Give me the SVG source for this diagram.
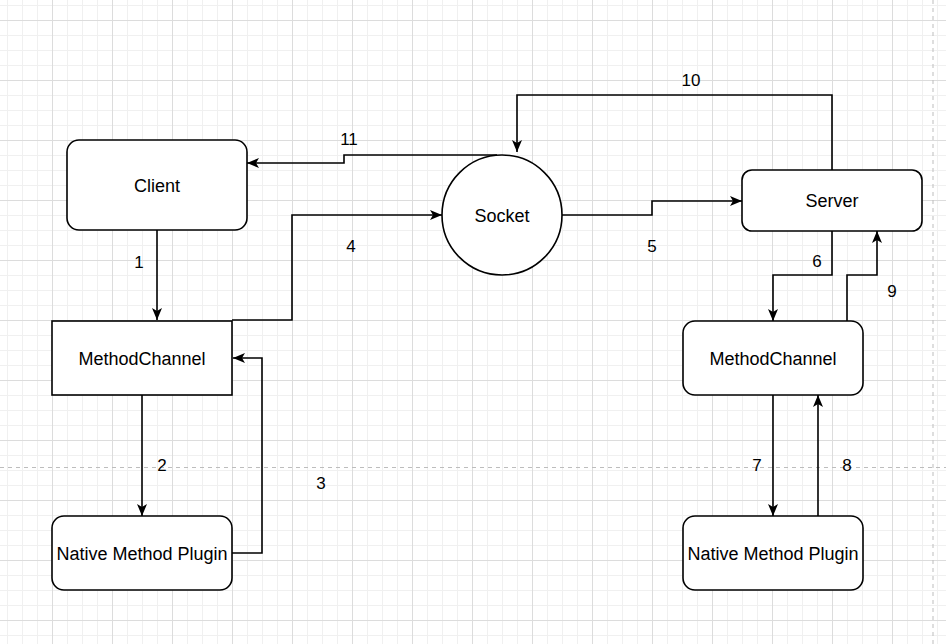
<svg xmlns="http://www.w3.org/2000/svg" width="946" height="644" viewBox="0 0 946 644">
<defs>
<pattern id="minor" patternUnits="userSpaceOnUse" x="7" y="5" width="15" height="15">
<path d="M0.5 0V15M0 0.5H15" stroke="#f0f0f0" stroke-width="1" fill="none"/>
</pattern>
<pattern id="major" patternUnits="userSpaceOnUse" x="52" y="20" width="60" height="60">
<path d="M0.5 0V60M0 0.5H60" stroke="#dcdcdc" stroke-width="1" fill="none"/>
</pattern>
<marker id="arr" viewBox="0 0 12 10" markerWidth="12" markerHeight="10" refX="12" refY="5" orient="auto" markerUnits="userSpaceOnUse">
<path d="M0,0 L12,5 L0,10 L3,5 Z" fill="#000"/>
</marker>
</defs>
<style>
.shape{fill:#fff;stroke:#000;stroke-width:1.6}
.lbl{font-family:"Liberation Sans",Arial,sans-serif;font-size:18px;fill:#000;text-anchor:middle;dominant-baseline:central}
.num{font-family:"Liberation Sans",Arial,sans-serif;font-size:17px;fill:#000;text-anchor:middle;dominant-baseline:central}
.edge{fill:none;stroke:#000;stroke-width:1.6;marker-end:url(#arr)}
</style>
<rect width="946" height="644" fill="#fff"/>
<rect width="946" height="644" fill="url(#minor)"/>
<rect width="946" height="644" fill="url(#major)"/>
<path d="M0 467.5H946M933 0V644" stroke="#bdbdbd" stroke-width="1" stroke-dasharray="4 4" fill="none"/>

<g id="connectors">
<path class="edge" d="M157 230V320"/>
<path class="edge" d="M142 395V516"/>
<path class="edge" d="M232 553H262V358H233"/>
<path class="edge" d="M232 320H292V215H442"/>
<path class="edge" d="M562 215H652V201H742"/>
<path class="edge" d="M832 231V275H773V321"/>
<path class="edge" d="M773 395V516"/>
<path class="edge" d="M818 516V395"/>
<path class="edge" d="M847 321V275H877V231"/>
<path class="edge" d="M832 170V95H517V152"/>
<path class="edge" d="M497 155H344V163H247"/>
<text class="num" x="139" y="262">1</text>
<text class="num" x="162" y="465">2</text>
<text class="num" x="321" y="483">3</text>
<text class="num" x="351" y="246">4</text>
<text class="num" x="652" y="246">5</text>
<text class="num" x="817" y="261">6</text>
<text class="num" x="757" y="465">7</text>
<text class="num" x="847" y="465">8</text>
<text class="num" x="892" y="291">9</text>
<text class="num" x="691" y="80">10</text>
<text class="num" x="349" y="139">11</text>
</g>

<g id="client">
<rect class="shape" x="67" y="140" width="180" height="90" rx="12"/>
<text class="lbl" x="157" y="186">Client</text>
</g>
<g id="socket">
<circle class="shape" cx="502" cy="215" r="60"/>
<text class="lbl" x="502" y="216">Socket</text>
</g>
<g id="server">
<rect class="shape" x="742" y="170" width="180" height="61" rx="10"/>
<text class="lbl" x="832" y="201">Server</text>
</g>
<g id="methodchannel-left">
<rect class="shape" x="52" y="321" width="180" height="74"/>
<text class="lbl" x="142" y="359">MethodChannel</text>
</g>
<g id="native-left">
<rect class="shape" x="52" y="516" width="180" height="74" rx="12"/>
<text class="lbl" x="142" y="554">Native Method Plugin</text>
</g>
<g id="methodchannel-right">
<rect class="shape" x="683" y="321" width="180" height="74" rx="12"/>
<text class="lbl" x="773" y="359">MethodChannel</text>
</g>
<g id="native-right">
<rect class="shape" x="683" y="516" width="180" height="74" rx="12"/>
<text class="lbl" x="773" y="554">Native Method Plugin</text>
</g>
</svg>
